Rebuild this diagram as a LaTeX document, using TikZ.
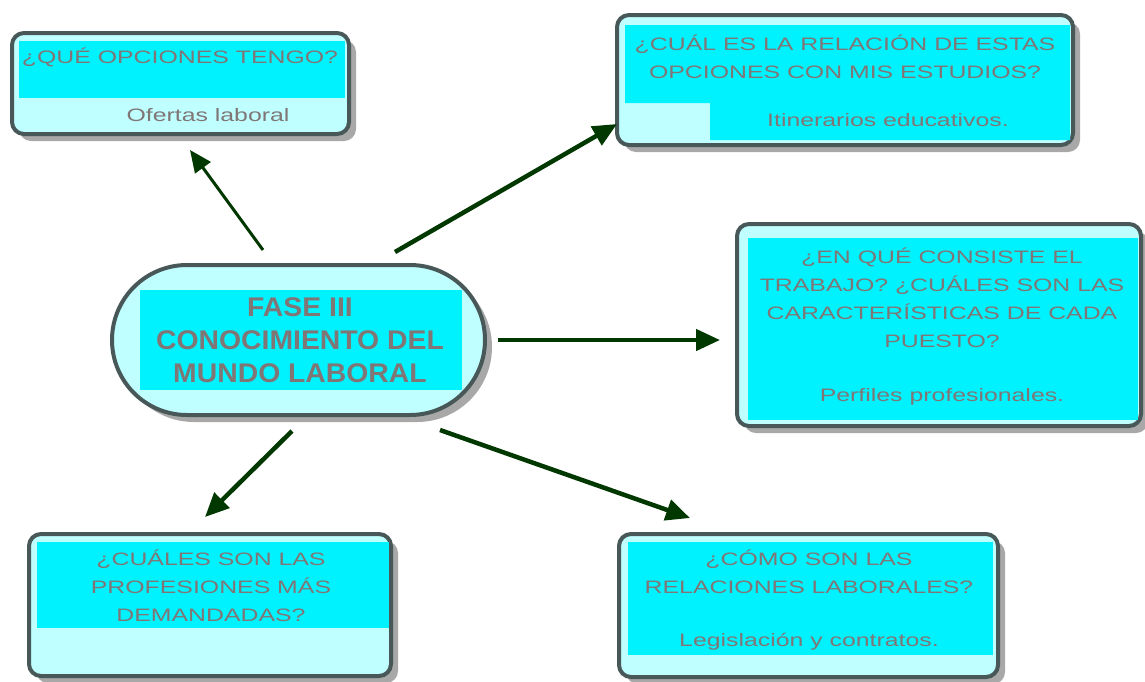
\documentclass[tikz,border=0pt]{standalone}
\usepackage{fontspec}
\setmainfont{Liberation Sans}
\newfontfamily\boxfont[FakeStretch=1.38]{Liberation Sans}
\newfontfamily\mainfont[FakeStretch=1.05]{Liberation Sans}
\usetikzlibrary{arrows.meta,shadows}
\definecolor{cyanin}{RGB}{0,242,255}
\definecolor{cyanout}{RGB}{192,255,255}
\definecolor{bord}{RGB}{72,88,88}
\definecolor{txt}{RGB}{128,118,118}
\definecolor{arr}{RGB}{0,56,0}
\definecolor{shad}{RGB}{168,168,168}
\begin{document}
\begin{tikzpicture}[x=1pt,y=-1pt,
  box/.style={draw=bord, line width=4pt, fill=cyanout, rounded corners=12pt, inner sep=0pt,
    drop shadow={shadow xshift=7pt, shadow yshift=-7pt, fill=shad, opacity=1}},
  inner/.style={fill=cyanin},
  qtext/.style={text=txt, align=center, inner sep=0pt, font=\boxfont\fontsize{18}{28}\selectfont},
  maintext/.style={text=txt, align=center, inner sep=0pt, font=\mainfont\bfseries\fontsize{27}{33}\selectfont},
  conn/.style={draw=arr, line width=4.5pt, -{Triangle[length=24pt,width=21pt]}},
  thinconn/.style={draw=arr, line width=3pt, -{Triangle[length=22pt,width=19pt]}}
]
\fill[white] (0,0) rectangle (1145,681);
\useasboundingbox (0,0) rectangle (1145,681);

% boxes
\node[box, minimum width=337pt, minimum height=101pt] (b1) at (180.5,83.5) {};
\fill[inner] (19,41) rectangle (345,98);

\node[box, minimum width=456pt, minimum height=130pt] (b2) at (845,80) {};
\fill[inner] (625,25) -- (1070,25) -- (1070,140) -- (710,140) -- (710,103) -- (625,103) -- cycle;

\node[box, rounded corners=75pt, minimum width=373pt, minimum height=150pt] (c) at (298.5,340) {};
\fill[inner] (140,290) rectangle (462,390);

\node[box, minimum width=404pt, minimum height=202pt] (b3) at (939,325) {};
\fill[inner] (748,238) rectangle (1138,420);

\node[box, minimum width=362pt, minimum height=142pt] (b4) at (210,605) {};
\fill[inner] (37,542) rectangle (389,628);

\node[box, minimum width=379pt, minimum height=143pt] (b5) at (808.5,605.5) {};
\fill[inner] (628,542) rectangle (993,655);

% texts
\node[qtext] (t1) at (180,57) {¿QUÉ OPCIONES TENGO?};
\node[qtext] (s1) at (208,115) {Ofertas laboral};

\node[qtext] (t2) at (845,56.5) {¿CUÁL ES LA RELACIÓN DE ESTAS\\OPCIONES CON MIS ESTUDIOS?};
\node[qtext] (s2) at (888,120) {Itinerarios educativos.};

\node[maintext] (tc) at (300,340) {FASE III\\CONOCIMIENTO DEL\\MUNDO LABORAL};

\node[qtext] (t3) at (942,298) {¿EN QUÉ CONSISTE EL\\TRABAJO? ¿CUÁLES SON LAS\\CARACTERÍSTICAS DE CADA\\PUESTO?};
\node[qtext] (s3) at (942,397) {Perfiles profesionales.};

\node[qtext] (t4) at (211,586) {¿CUÁLES SON LAS\\PROFESIONES MÁS\\DEMANDADAS?};

\node[qtext] (t5) at (809,572) {¿CÓMO SON LAS\\RELACIONES LABORALES?};
\node[qtext] (s5) at (809,642) {Legislación y contratos.};

% connectors
\coordinate (a1s) at (263,250); \coordinate (a1e) at (190,150);
\coordinate (a2s) at (395,252); \coordinate (a2e) at (617,124);
\coordinate (a3s) at (498,340); \coordinate (a3e) at (720,340);
\coordinate (a4s) at (292,431); \coordinate (a4e) at (205,517);
\coordinate (a5s) at (440,430); \coordinate (a5e) at (690,518);
\draw[thinconn] (a1s) -- (a1e);
\draw[conn] (a2s) -- (a2e);
\draw[conn] (a3s) -- (a3e);
\draw[conn] (a4s) -- (a4e);
\draw[conn] (a5s) -- (a5e);
\end{tikzpicture}
\end{document}
